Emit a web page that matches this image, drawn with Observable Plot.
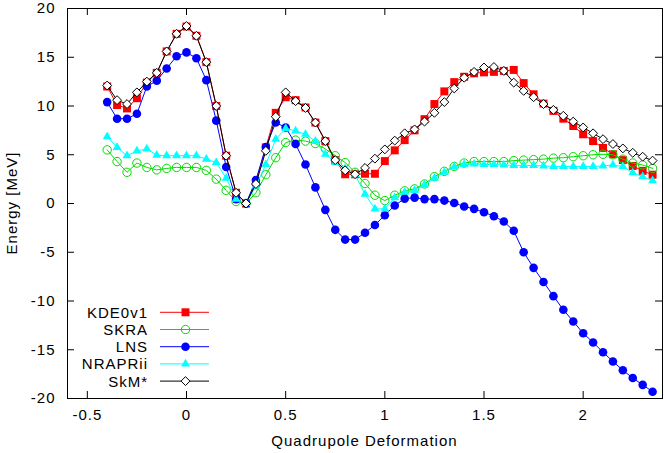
<!DOCTYPE html>
<html><head><meta charset="utf-8">
<script src="https://cdn.jsdelivr.net/npm/d3@7"></script>
<script src="https://cdn.jsdelivr.net/npm/@observablehq/plot@0.6"></script>
<style>body{margin:0;background:#fff}#chart{width:664px;height:453px}</style>
</head><body><div id="chart"></div>
<script>
const deformation = [-0.4,-0.35,-0.3,-0.25,-0.2,-0.15,-0.1,-0.05,0,0.05,0.1,0.15,0.2,0.25,0.3,0.35,0.4,0.45,0.5,0.55,0.6,0.65,0.7,0.75,0.8,0.85,0.9,0.95,1.0,1.05,1.1,1.15,1.2,1.25,1.3,1.35,1.4,1.45,1.5,1.55,1.6,1.65,1.7,1.75,1.8,1.85,1.9,1.95,2.0,2.05,2.1,2.15,2.2,2.25,2.3,2.35];
const KDE0v1 = [12.0,10.1,9.75,10.8,12.4,13.4,15.6,17.4,18.15,17.2,14.5,10.0,4.9,1.1,0,2.2,5.75,9.3,10.9,10.6,9.85,8.3,6.4,4.45,3.0,3.0,3.05,3.05,4.35,5.45,6.5,7.5,8.65,10.2,11.5,12.45,13.0,13.35,13.45,13.5,13.6,13.7,12.35,11.2,10.25,9.5,8.7,7.95,7.1,6.4,5.7,5.05,4.45,3.85,3.35,2.95];
const SKRA = [5.5,4.3,3.2,4.15,3.7,3.45,3.6,3.7,3.7,3.7,3.4,2.5,1.35,0.2,0,1.1,2.95,4.7,6.25,6.5,6.4,6.15,5.6,4.9,4.2,3.2,2.05,0.85,0.3,0.85,1.3,1.5,2.0,2.75,3.3,3.8,4.15,4.3,4.3,4.3,4.3,4.4,4.45,4.5,4.55,4.65,4.7,4.8,4.9,5.0,5.05,5.0,4.55,4.15,3.95,3.6];
const LNS = [10.4,8.7,8.7,9.2,12.0,12.6,13.85,15.1,15.5,14.9,12.65,8.5,3.75,0.45,0,2.4,5.8,8.3,7.8,6.1,4.0,1.65,-0.65,-2.7,-3.7,-3.7,-3.0,-2.2,-1.2,-0.2,0.5,0.6,0.45,0.45,0.3,0.05,-0.3,-0.55,-0.9,-1.3,-1.85,-2.8,-5.0,-6.6,-8.05,-9.5,-10.9,-12.1,-13.3,-14.25,-15.25,-16.2,-17.1,-17.9,-18.6,-19.3];
const NRAPRii = [6.85,5.75,4.9,5.4,5.6,4.95,4.9,4.9,4.9,4.9,4.55,4.2,2.6,0.45,0,1.8,4.0,6.6,7.7,7.45,7.1,6.4,5.05,4.2,3.6,2.95,0.95,-0.55,-0.55,0.6,1.15,1.35,1.9,2.6,3.2,3.75,4.0,4.05,4.0,4.0,3.95,3.9,3.9,3.9,3.85,3.8,3.8,3.8,3.8,3.8,3.85,3.95,3.8,3.15,2.75,2.35];
const SkMstar = [12.1,10.6,10.2,11.4,12.5,13.4,15.6,17.4,18.2,17.2,14.5,10.0,4.9,1.1,0,2.0,5.4,8.9,11.4,10.5,9.8,8.3,6.4,4.45,3.4,3.0,3.65,4.6,5.55,6.45,7.2,7.6,8.4,9.3,10.4,11.8,12.9,13.5,13.95,14.0,13.6,12.4,11.55,10.9,10.2,9.6,9.0,8.4,7.8,7.2,6.6,6.1,5.65,5.2,4.8,4.4];
const seriesNames = ["KDE0v1","SKRA","LNS","NRAPRii","SkM*"];
const seriesValues = [KDE0v1, SKRA, LNS, NRAPRii, SkMstar];
const xTicks = [-0.5,0,0.5,1,1.5,2];
const yTicks = [-20,-15,-10,-5,0,5,10,15,20];
const xLabel = "Quadrupole Deformation";
const yLabel = "Energy [MeV]";

const W = 664, H = 453, ML = 67, MR = 2, MT = 8, MB = 55;
const PW = W - ML - MR, PH = H - MT - MB;
const diamond = {draw(ctx, size){const r = Math.sqrt(size) * 0.62625; ctx.moveTo(0,-r); ctx.lineTo(r,0); ctx.lineTo(0,r); ctx.lineTo(-r,0); ctx.closePath();}};
const looks = [
  {line:"#ff0000", symbol:"square", fill:"#ff0000", stroke:"none", r:4.5},
  {line:"#00dd00", symbol:"circle", fill:"none", stroke:"#00dd00", r:4.2},
  {line:"#0000ff", symbol:"circle", fill:"#0000ff", stroke:"none", r:4.3},
  {line:"#00ffff", symbol:"triangle", fill:"#00ffff", stroke:"none", r:3.3},
  {line:"#000000", symbol:diamond, fill:"#ffffff", stroke:"#000000", r:4}
];
const rows = seriesNames.map((name, k) => deformation.map((x, i) => ({name, x, y: seriesValues[k][i]})));

const marks = [];
rows.forEach((data, k) => {
  const s = looks[k];
  marks.push(Plot.line(data, {x:"x", y:"y", stroke:s.line, strokeWidth:1}));
  marks.push(Plot.dot(data, {x:"x", y:"y", symbol:s.symbol, r:s.r, fill:s.fill, stroke:s.stroke, strokeWidth:1}));
});

const chart = Plot.plot({
  width: W, height: H, marginLeft: ML, marginRight: MR, marginTop: MT, marginBottom: MB,
  x: {domain: [-0.6, 2.4]},
  y: {domain: [-20, 20]},
  style: {fontFamily: "'Liberation Sans', Arial, sans-serif", fontSize: "15px", letterSpacing: "1px", color: "#000", background: "#fff"},
  marks: [
    ...marks,
    Plot.tickX(xTicks, {x: d => d, insetTop: PH - 7, stroke: "#000"}),
    Plot.tickX(xTicks, {x: d => d, insetBottom: PH - 7, stroke: "#000"}),
    Plot.tickY(yTicks, {y: d => d, insetRight: PW - 7, stroke: "#000"}),
    Plot.tickY(yTicks, {y: d => d, insetLeft: PW - 7, stroke: "#000"}),
    Plot.axisX(xTicks, {tickSize: 0, tickPadding: 11, tickFormat: d => String(d), label: null}),
    Plot.axisY(yTicks, {tickSize: 0, tickPadding: 12, tickFormat: d => String(d), label: null}),
    Plot.frame({stroke: "#000", strokeWidth: 1})
  ]
});
document.getElementById("chart").append(chart);

const svg = d3.select(chart);
svg.append("text").attr("x", ML + PW/2).attr("y", 446).attr("text-anchor", "middle").attr("fill", "#000").text(xLabel);
svg.append("text").attr("transform", "translate(16.5," + (MT + PH/2) + ") rotate(-90)").attr("text-anchor", "middle").attr("fill", "#000").text(yLabel);

const lg = svg.append("g");
seriesNames.forEach((name, k) => {
  const s = looks[k];
  const cy = 312.3 + k * 17.2;
  lg.append("text").attr("x", 148).attr("y", cy).attr("dy", "0.36em").attr("text-anchor", "end").attr("fill", "#000").text(name);
  lg.append("line").attr("x1", 160).attr("x2", 209).attr("y1", cy).attr("y2", cy).attr("stroke", s.line).attr("stroke-width", 1);
  const sym = typeof s.symbol === "string" ? ({square: d3.symbolSquare, circle: d3.symbolCircle, triangle: d3.symbolTriangle})[s.symbol] : s.symbol;
  lg.append("path").attr("transform", "translate(185.5," + cy + ")")
    .attr("d", d3.symbol(sym, Math.PI * s.r * s.r)())
    .attr("fill", s.fill).attr("stroke", s.stroke).attr("stroke-width", 1);
});
</script>
</body></html>
